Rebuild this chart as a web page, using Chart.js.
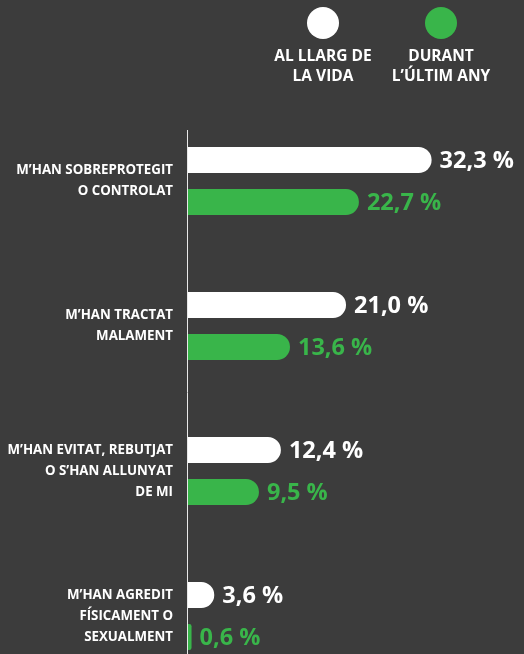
<!DOCTYPE html>
<html><head><meta charset="utf-8">
<script src="https://cdn.jsdelivr.net/npm/chart.js@4"></script>
<style>html,body{margin:0;padding:0;background:#3c3c3c;overflow:hidden}#wrap{width:524px;height:654px}</style>
</head><body><div id="wrap"><canvas id="c" width="524" height="654"></canvas></div>
<script>
const categories = [
  ['M’HAN SOBREPROTEGIT', 'O CONTROLAT'],
  ['M’HAN TRACTAT', 'MALAMENT'],
  ['M’HAN EVITAT, REBUTJAT', 'O S’HAN ALLUNYAT', 'DE MI'],
  ['M’HAN AGREDIT', 'FÍSICAMENT O', 'SEXUALMENT']
];
const seriesNames = [['AL LLARG DE', 'LA VIDA'], ['DURANT', 'L’ÚLTIM ANY']];
const lifetime = [32.3, 21.0, 12.4, 3.6];
const lastYear = [22.7, 13.6, 9.5, 0.6];
const seriesColors = ['#ffffff', '#39b54a'];

const FONT = '"Open Sans", "Noto Sans", sans-serif';

const valueLabels = {
  id: 'valueLabels',
  afterDatasetsDraw(chart) {
    const ctx = chart.ctx;
    ctx.save();
    ctx.font = '700 23.5px ' + FONT;
    ctx.textBaseline = 'middle';
    ctx.textAlign = 'left';
    chart.data.datasets.forEach((ds, di) => {
      const meta = chart.getDatasetMeta(di);
      meta.data.forEach((el, i) => {
        const v = ds.data[i].x;
        ctx.fillStyle = ds.backgroundColor;
        ctx.fillText(v.toFixed(1).replace('.', ',') + ' %', el.x + 8, el.y + 1);
      });
    });
    ctx.restore();
  }
};

const topLegend = {
  id: 'topLegend',
  afterDraw(chart) {
    const ctx = chart.ctx;
    const xs = [323, 441];
    ctx.save();
    seriesNames.forEach((lines, i) => {
      ctx.fillStyle = seriesColors[i];
      ctx.beginPath();
      ctx.arc(xs[i], 23, 16, 0, Math.PI * 2);
      ctx.fill();
      ctx.fillStyle = '#ffffff';
      ctx.font = '700 15.5px ' + FONT;
      ctx.textAlign = 'center';
      ctx.textBaseline = 'middle';
      lines.forEach((t, j) => ctx.fillText(t, xs[i], 57 + j * 20));
    });
    ctx.restore();
  }
};

function build() {
  new Chart(document.getElementById('c'), {
    type: 'bar',
    data: {
      datasets: [
        { label: seriesNames[0].join(' '), data: lifetime.map((v, i) => ({ x: v, y: i })),
          backgroundColor: seriesColors[0], borderRadius: 13, borderSkipped: 'start',
          categoryPercentage: 0.5793, barPercentage: 0.619 },
        { label: seriesNames[1].join(' '), data: lastYear.map((v, i) => ({ x: v, y: i })),
          backgroundColor: seriesColors[1], borderRadius: 13, borderSkipped: 'start',
          categoryPercentage: 0.5793, barPercentage: 0.619 }
      ]
    },
    options: {
      indexAxis: 'y',
      responsive: false,
      animation: false,
      layout: { padding: { top: 130, left: 0, right: 0, bottom: 0 } },
      plugins: { legend: { display: false }, tooltip: { enabled: false } },
      scales: {
        x: { type: 'linear', display: false, min: 0, max: 44.5 },
        y: {
          type: 'linear', reverse: true, offset: false, min: -0.352, max: 3.262,
          afterBuildTicks: s => { s.ticks = categories.map((c, i) => ({ value: i })); },
          afterFit: s => { s.width = 187; s.paddingTop = 0; s.paddingBottom = 0; },
          grid: { display: true, offset: false, color: 'rgba(0,0,0,0)', drawTicks: false },
          border: { display: true, color: '#e8e8e8', width: 1, z: 1 },
          ticks: {
            color: '#ffffff', padding: 14, autoSkip: false,
            font: { family: FONT, weight: '700', size: 13.3, lineHeight: 1.58 },
            callback: v => categories[v]
          }
        }
      }
    },
    plugins: [valueLabels, topLegend]
  });
}

Promise.all([
  document.fonts.load('700 13px "Open Sans"'),
  document.fonts.load('700 23px "Open Sans"')
]).then(build, build);
</script>
</body></html>
